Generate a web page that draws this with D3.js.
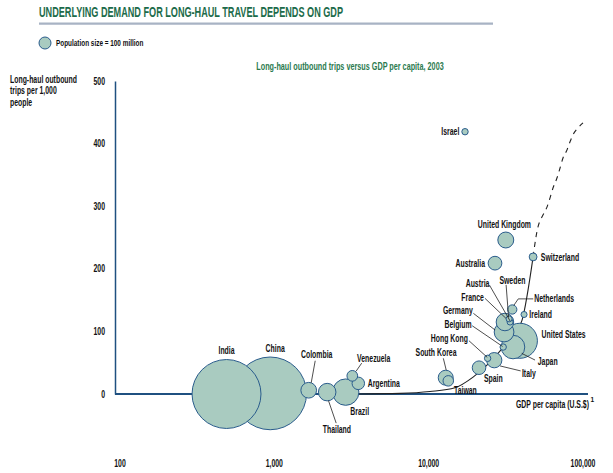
<!DOCTYPE html>
<html><head><meta charset="utf-8">
<script src="https://cdn.jsdelivr.net/npm/d3@7"></script>
<style>
html,body{margin:0;padding:0;background:#fff;}
svg{display:block;}
text{font-family:"Liberation Sans",Arial,sans-serif;font-weight:bold;fill:#111;}
</style></head><body>
<svg id="chart" width="613" height="473"></svg>
<script>
// ---------- data ----------
const countries = ["India","China","Colombia","Thailand","Brazil","Venezuela","Argentina","Taiwan","South Korea","Spain","Hong Kong","Italy","Belgium","Japan","United States","Germany","France","Austria","Sweden","Netherlands","Ireland","Switzerland","Australia","United Kingdom","Israel"];
const gdpPerCapita = [490,940,1670,2200,2900,3200,3500,13400,12900,21200,24100,26600,30400,35200,39000,30800,31200,33700,33200,34800,41500,47500,26900,31600,17200];
const tripsPer1000 = [0,1,6,3,3,29,17,21,26,42,57,54,75,75,85,99,115,115,120,135,127,219,209,246,419];
const populationMillions = [1160,1290,60,75,170,28,38,27,55,45,10,57,10,135,300,95,75,9,9,21,9,15,46,62,10];

const trendGdp = [3480,6520,10200,14800,19400,25000,31200,36300,40300,47500];
const trendTrips = [0,1,4,10,27,51,78,97,118,219];
const trendDashedGdp = [47500,49600,51100,54300,58500,61100,63900,67800,71000,74200,78800,82400,86100,92800,100000];
const trendDashedTrips = [219,251,267,283,299,313,329,345,361,377,390,403,414,425,433];

const yTicks = [0,100,200,300,400,500];
const xTicks = [100,1000,10000,100000];

const titleText = "UNDERLYING DEMAND FOR LONG-HAUL TRAVEL DEPENDS ON GDP";
const subtitleText = "Long-haul outbound trips versus GDP per capita, 2003";
const legendText = "Population size = 100 million";
const yTitleLines = ["Long-haul outbound","trips per 1,000","people"];
const xTitleText = "GDP per capita (U.S.$)";

// ---------- layout (label placement relative to circle centre) ----------
const labelLayout = {
 "India":{dx:0,dy:-44,a:"middle"},
 "China":{dx:5,dy:-45,a:"middle"},
 "Colombia":{dx:8,dy:-35.5,a:"middle",lead:[[6.5,-29.5],[2.5,-7.5]]},
 "Thailand":{dx:9.7,dy:37,a:"middle",lead:[[1.3,8.5],[9,31]]},
 "Brazil":{dx:14,dy:19,a:"middle"},
 "Venezuela":{dx:21.4,dy:-17.7,a:"middle",lead:[[9.4,-12.7],[3.7,-4.5]]},
 "Argentina":{dx:9.4,dy:0.5,a:"start"},
 "Taiwan":{dx:5.7,dy:9.3,a:"start"},
 "South Korea":{dx:-9.7,dy:-25.4,a:"middle",lead:[[-2.4,-19.4],[0.5,-7.6]]},
 "Spain":{dx:14.3,dy:10.6,a:"middle"},
 "Hong Kong":{dx:-19.7,dy:-20,a:"end",lead:[[-18.7,-17.6],[-0.4,-1]]},
 "Italy":{dx:27.7,dy:13.3,a:"start",lead:[[5.7,5.7],[26.4,10.7]]},
 "Belgium":{dx:-31.6,dy:-22.3,a:"end",lead:[[-31,-21.3],[-0.6,-0.6]]},
 "Japan":{dx:24.7,dy:14.7,a:"start",lead:[[22,13],[8.7,6.3]]},
 "United States":{dx:21.7,dy:-6,a:"start"},
 "Germany":{dx:-31.3,dy:-21.3,a:"end",lead:[[-30.7,-18.7],[-9,-2]]},
 "France":{dx:-21,dy:-24.7,a:"end",lead:[[-20,-23.7],[1,-3.7]]},
 "Austria":{dx:-20.7,dy:-38.7,a:"end",lead:[[-20.7,-37],[0,-1]]},
 "Sweden":{dx:3.3,dy:-38.3,a:"middle",lead:[[-3,-34],[-0.5,-1.5]]},
 "Netherlands":{dx:22,dy:-10.6,a:"start",lead:[[21,-10.6],[6,-10.6],[1.7,-4.3]]},
 "Ireland":{dx:5.3,dy:0.3,a:"start"},
 "Switzerland":{dx:7.7,dy:0.3,a:"start"},
 "Australia":{dx:-10,dy:0,a:"end"},
 "United Kingdom":{dx:-1.4,dy:-16,a:"middle"},
 "Israel":{dx:-5.7,dy:0,a:"end"}
};

const GREEN = "#1c6b4a", FILL = "#a9cbc0", STROKE = "#2a5c8c", AXIS = "#1f5080";
const SX = 0.69;

const svg = d3.select("#chart");
const x = d3.scaleLog().domain([100,100000]).range([120,583]);
const y = d3.scaleLinear().domain([0,500]).range([394,81]);
const r = d3.scaleSqrt().domain([0,1300]).range([0,36.5]);

function label(g, px, py, str, anchor, size){
  return g.append("text")
    .attr("transform",`translate(${px},${py}) scale(${SX},1)`)
    .attr("text-anchor",anchor).attr("dy","0.35em")
    .style("font-size",size+"px").text(str);
}

// title
svg.append("text").attr("x",39).attr("y",17)
  .attr("textLength",304).attr("lengthAdjust","spacingAndGlyphs")
  .style("font-size","14px").style("fill",GREEN).text(titleText);
svg.append("line").attr("x1",39).attr("x2",493).attr("y1",23.7).attr("y2",23.7)
  .attr("stroke","#a8b3c4").attr("stroke-width",2.2);

// legend
svg.append("circle").attr("cx",45).attr("cy",43).attr("r",6)
  .attr("fill",FILL).attr("stroke",STROKE).attr("stroke-width",1);
label(svg,56,43,legendText,"start",9.3);

// subtitle
label(svg,350,66,subtitleText,"middle",10.5).style("fill","#2a7a4e");

// y title
yTitleLines.forEach((t,i)=>label(svg,10,79+i*11.5,t,"start",10));

// y axis
const yAxis = svg.append("g").attr("transform","translate(115,0)")
  .call(d3.axisLeft(y).tickValues(yTicks).tickSize(0).tickPadding(10).tickFormat(d3.format("d")));
yAxis.select(".domain").attr("stroke",AXIS).attr("stroke-width",1.5);
yAxis.selectAll("text").remove();
yTicks.forEach(v=>label(svg,105,y(v),String(v),"end",10));

// x axis line
svg.append("line").attr("x1",115).attr("x2",588).attr("y1",y(0)).attr("y2",y(0))
  .attr("stroke",AXIS).attr("stroke-width",1.8);
// x tick labels
const xAxis = svg.append("g").attr("transform","translate(0,460)")
  .call(d3.axisBottom(x).tickValues(xTicks).tickSize(0).tickPadding(0).tickFormat(d3.format(",")));
xAxis.select(".domain").remove();
xAxis.selectAll(".tick text").remove();
xTicks.forEach(v=>label(svg,x(v),463.5,d3.format(",")(v),"middle",10));

// x title
label(svg,589,404,xTitleText,"end",10);
svg.append("text").attr("x",590.5).attr("y",402).style("font-size","6.5px").text("1");

// trend line
const line = d3.line().x(d=>x(d[0])).y(d=>y(d[1])).curve(d3.curveMonotoneX);
svg.append("path").attr("d",line(trendGdp.map((g,i)=>[g,trendTrips[i]])))
  .attr("fill","none").attr("stroke","#222").attr("stroke-width",1.1);
svg.append("path").attr("d",line(trendDashedGdp.map((g,i)=>[g,trendDashedTrips[i]])))
  .attr("fill","none").attr("stroke","#222").attr("stroke-width",1.1).attr("stroke-dasharray","5,5");

// bubbles
const data = countries.map((c,i)=>({name:c,gdp:gdpPerCapita[i],trips:tripsPer1000[i],pop:populationMillions[i]}));
const sorted = data.slice().sort((a,b)=>b.pop-a.pop);
svg.append("g").selectAll("circle").data(sorted).join("circle")
  .attr("cx",d=>x(d.gdp)).attr("cy",d=>y(d.trips)).attr("r",d=>r(d.pop))
  .attr("fill",FILL).attr("stroke",STROKE).attr("stroke-width",1);

// leaders and labels
const lg = svg.append("g");
data.forEach(d=>{
  const L = labelLayout[d.name]; const cx = x(d.gdp), cy = y(d.trips);
  if(L.lead){
    lg.append("path").attr("d",d3.line()(L.lead.map(p=>[cx+p[0],cy+p[1]])))
      .attr("fill","none").attr("stroke","#222").attr("stroke-width",0.8);
  }
  label(lg,cx+L.dx,cy+L.dy,d.name,L.a,10);
});
</script>
</body></html>
